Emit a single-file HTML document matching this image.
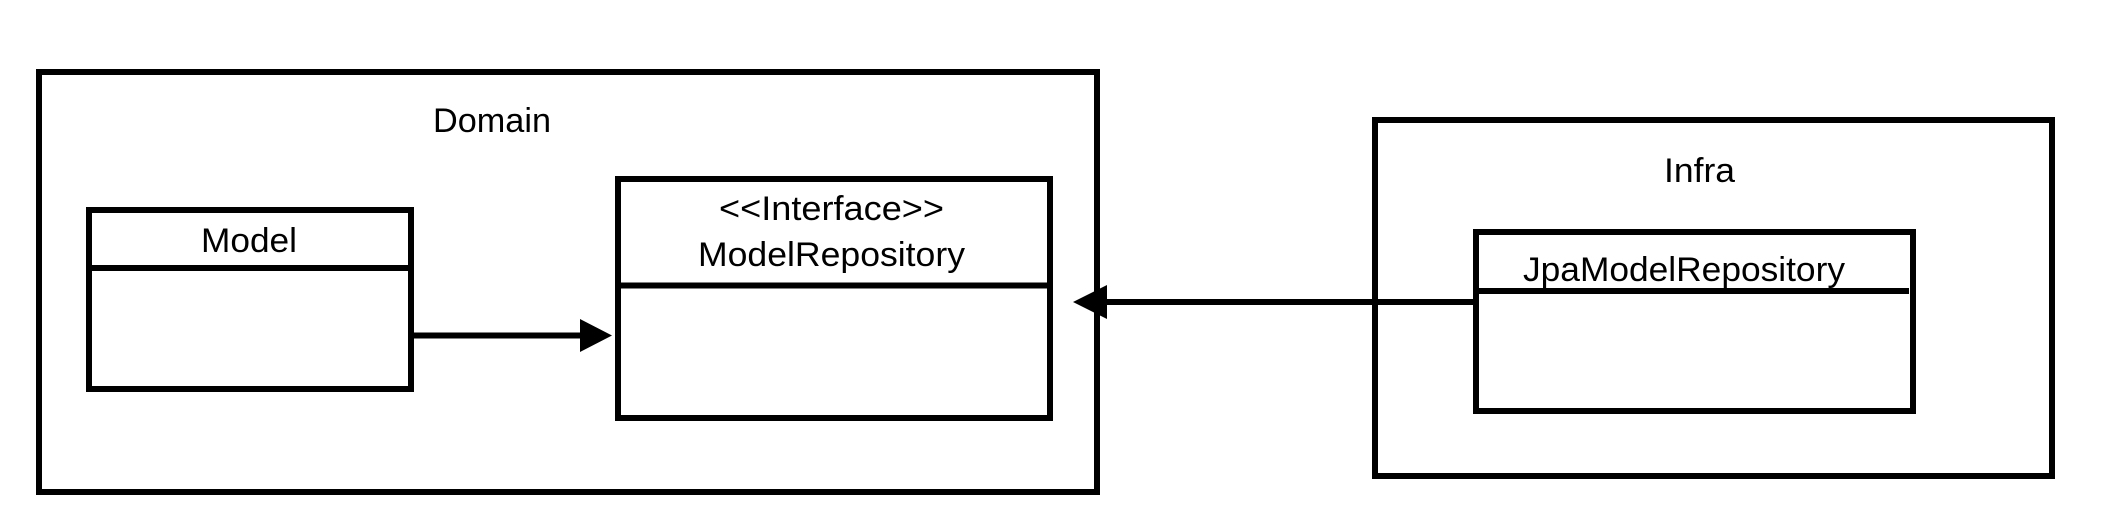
<!DOCTYPE html>
<html><head><meta charset="utf-8"><style>html,body{margin:0;padding:0;background:#fff;width:2102px;height:532px;overflow:hidden}</style></head>
<body>
<svg width="2102" height="532" viewBox="0 0 2102 532" xmlns="http://www.w3.org/2000/svg" font-family="Liberation Sans, DejaVu Sans, sans-serif" font-size="34" fill="#000">
<g transform="translate(0,-2)">
<g fill="none" stroke="#000" stroke-width="6">
<rect x="39" y="74" width="1058" height="420"/>
<rect x="89" y="212" width="322" height="179"/>
<line x1="89" y1="270" x2="411" y2="270"/>
<rect x="618" y="181" width="432" height="239"/>
<line x1="618" y1="287.5" x2="1050" y2="287.5"/>
<rect x="1375" y="122" width="677" height="356"/>
<rect x="1476" y="234" width="437" height="179"/>
<line x1="1476" y1="293" x2="1909" y2="293"/>
<line x1="411" y1="337.5" x2="582" y2="337.5"/>
<line x1="1476" y1="304" x2="1104" y2="304"/>
</g>
<polygon points="580,321 612,337.5 580,354"/>
<polygon points="1073,304 1107,287 1107,321"/>
<g stroke="none">
<text x="433" y="134" textLength="118" lengthAdjust="spacingAndGlyphs">Domain</text>
<text x="201" y="254" textLength="96" lengthAdjust="spacingAndGlyphs">Model</text>
<text x="719" y="222" textLength="225" lengthAdjust="spacingAndGlyphs">&lt;&lt;Interface&gt;&gt;</text>
<text x="698" y="268" textLength="267" lengthAdjust="spacingAndGlyphs">ModelRepository</text>
<text x="1664" y="184" textLength="71" lengthAdjust="spacingAndGlyphs">Infra</text>
<text x="1523" y="283" textLength="322" lengthAdjust="spacingAndGlyphs">JpaModelRepository</text>
</g>
</g>
</svg>
</body></html>
